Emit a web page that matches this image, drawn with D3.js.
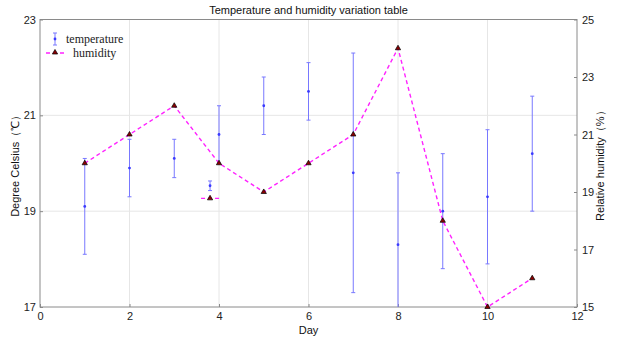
<!DOCTYPE html>
<html>
<head>
<meta charset="utf-8">
<title>Temperature and humidity variation table</title>
<script src="https://cdnjs.cloudflare.com/ajax/libs/d3/7.8.5/d3.min.js"></script>
<style>
  body { margin: 0; background: #fff; }
  svg { font-family: "Liberation Sans", Arial, sans-serif; }
  .axis path, .axis line { stroke: #8a8a8a; }
  .axis text { fill: #222; font-size: 11px; }
  .grid line { stroke: #e6e6e6; }
</style>
</head>
<body>
<div id="chart"></div>
<script>
// data
var days = [1, 2, 3, 4, 5, 6, 7, 8, 9, 10, 11];
var tempMean = [19.1, 19.9, 20.1, 20.6, 21.2, 21.5, 19.8, 18.3, 19.0, 19.3, 20.2];
var tempErr = [1.0, 0.6, 0.4, 0.6, 0.6, 0.6, 2.5, 1.5, 1.2, 1.4, 1.2];
var humidity = [20, 21, 22, 20, 19, 20, 21, 24, 18, 15, 16];
// stray legend sample drawn inside the axes at day 3.8
var strayDay = 3.8;
var strayTemp = 19.53, strayTempErr = 0.1;
var strayHum = 18.78;

var xTicks = [0, 2, 4, 6, 8, 10, 12];
var leftTicks = [17, 19, 21, 23];
var rightTicks = [15, 17, 19, 21, 23, 25];

var width = 618, height = 340;
var pLeft = 40, pRight = 577, pTop = 19.5, pBottom = 307;

var svg = d3.select("#chart").append("svg")
  .attr("width", width).attr("height", height);

var x = d3.scaleLinear().domain([0, 12]).range([pLeft, pRight]);
var yT = d3.scaleLinear().domain([17, 23]).range([pBottom, pTop]);
var yH = d3.scaleLinear().domain([15, 25]).range([pBottom, pTop]);

// grid
var grid = svg.append("g").attr("class", "grid");
grid.selectAll("line.v").data(xTicks.slice(1, -1)).enter().append("line")
  .attr("x1", d => x(d)).attr("x2", d => x(d))
  .attr("y1", pTop).attr("y2", pBottom);
grid.selectAll("line.h").data(leftTicks.slice(1, -1)).enter().append("line")
  .attr("x1", pLeft).attr("x2", pRight)
  .attr("y1", d => yT(d)).attr("y2", d => yT(d));

// frame
svg.append("rect")
  .attr("x", pLeft).attr("y", pTop)
  .attr("width", pRight - pLeft).attr("height", pBottom - pTop)
  .attr("fill", "none").attr("stroke", "#8a8a8a");

svg.append("g").attr("class", "axis")
  .attr("transform", "translate(0," + pBottom + ")")
  .call(d3.axisBottom(x).tickValues(xTicks).tickSize(-3).tickPadding(5).tickFormat(d3.format("d")));
svg.append("g").attr("class", "axis")
  .attr("transform", "translate(" + pLeft + ",0)")
  .call(d3.axisLeft(yT).tickValues(leftTicks).tickSize(-3).tickPadding(4).tickFormat(d3.format("d")));
svg.append("g").attr("class", "axis")
  .attr("transform", "translate(" + pRight + ",0)")
  .call(d3.axisRight(yH).tickValues(rightTicks).tickSize(-3).tickPadding(5).tickFormat(d3.format("d")));
svg.selectAll(".axis .domain").remove();

// clip to plot
svg.append("clipPath").attr("id", "clip").append("rect")
  .attr("x", pLeft).attr("y", pTop).attr("width", pRight - pLeft).attr("height", pBottom - pTop);
var plot = svg.append("g").attr("clip-path", "url(#clip)");

var barColor = "#7878ff";
function errorBar(g, d, m, e, scale) {
  g.append("line").attr("x1", x(d)).attr("x2", x(d))
    .attr("y1", scale(m - e)).attr("y2", scale(m + e))
    .attr("stroke", barColor).attr("stroke-width", 1);
  [m - e, m + e].forEach(function(v) {
    g.append("line").attr("x1", x(d) - 2).attr("x2", x(d) + 2)
      .attr("y1", scale(v)).attr("y2", scale(v))
      .attr("stroke", barColor).attr("stroke-width", 1);
  });
  g.append("circle").attr("cx", x(d)).attr("cy", scale(m)).attr("r", 1.4).attr("fill", "#3a3aff");
}

days.forEach(function(d, i) { errorBar(plot, d, tempMean[i], tempErr[i], yT); });
errorBar(plot, strayDay, strayTemp, strayTempErr, yT);

// humidity line
var line = d3.line().x(d => x(d[0])).y(d => yH(d[1]));
var humPts = days.map((d, i) => [d, humidity[i]]);
plot.append("path").datum(humPts).attr("d", line)
  .attr("fill", "none").attr("stroke", "#ff22ff").attr("stroke-width", 1.4)
  .attr("stroke-dasharray", "4,3");
plot.append("line")
  .attr("x1", x(strayDay) - 9).attr("x2", x(strayDay) + 9)
  .attr("y1", yH(strayHum)).attr("y2", yH(strayHum))
  .attr("stroke", "#ff22ff").attr("stroke-width", 1.4).attr("stroke-dasharray", "4,3");

var tri = d3.symbol().type(d3.symbolTriangle).size(12);
svg.selectAll("path.tri").data(humPts.concat([[strayDay, strayHum]])).enter().append("path")
  .attr("class", "tri")
  .attr("d", tri)
  .attr("transform", d => "translate(" + x(d[0]) + "," + yH(d[1]) + ")")
  .attr("fill", "#8b0000").attr("stroke", "#000").attr("stroke-width", 0.7);

// legend
var lg = svg.append("g");
lg.append("line").attr("x1", 55).attr("x2", 55).attr("y1", 33).attr("y2", 45)
  .attr("stroke", barColor);
[33, 45].forEach(function(v) {
  lg.append("line").attr("x1", 53).attr("x2", 57).attr("y1", v).attr("y2", v).attr("stroke", barColor);
});
lg.append("circle").attr("cx", 55).attr("cy", 39).attr("r", 1.4).attr("fill", "#3a3aff");
lg.append("text").attr("x", 66).attr("y", 43).text("temperature")
  .attr("font-family", "Liberation Serif, Times New Roman, serif").attr("font-size", "12px").attr("fill", "#222");
lg.append("line").attr("x1", 46).attr("x2", 64).attr("y1", 53).attr("y2", 53)
  .attr("stroke", "#ff22ff").attr("stroke-width", 1.4).attr("stroke-dasharray", "4,3");
lg.append("path").attr("d", tri).attr("transform", "translate(55,52.5)")
  .attr("fill", "#8b0000").attr("stroke", "#000").attr("stroke-width", 0.7);
lg.append("text").attr("x", 73).attr("y", 57).text("humidity")
  .attr("font-family", "Liberation Serif, Times New Roman, serif").attr("font-size", "12px").attr("fill", "#222");

// titles
svg.append("text").attr("x", (pLeft + pRight) / 2).attr("y", 14).attr("text-anchor", "middle")
  .attr("font-size", "11px").attr("fill", "#111").text("Temperature and humidity variation table");
svg.append("text").attr("x", (pLeft + pRight) / 2).attr("y", 334).attr("text-anchor", "middle")
  .attr("font-size", "11px").attr("fill", "#111").text("Day");
svg.append("text").attr("transform", "translate(19," + (pTop + pBottom) / 2 + ") rotate(-90)")
  .attr("text-anchor", "middle").attr("font-size", "11px").attr("fill", "#111").text("Degree Celsius（℃）");
svg.append("text").attr("transform", "translate(604," + (pTop + pBottom) / 2 + ") rotate(-90)")
  .attr("text-anchor", "middle").attr("font-size", "11px").attr("fill", "#111").text("Relative humidity（%）");
</script>
</body>
</html>
